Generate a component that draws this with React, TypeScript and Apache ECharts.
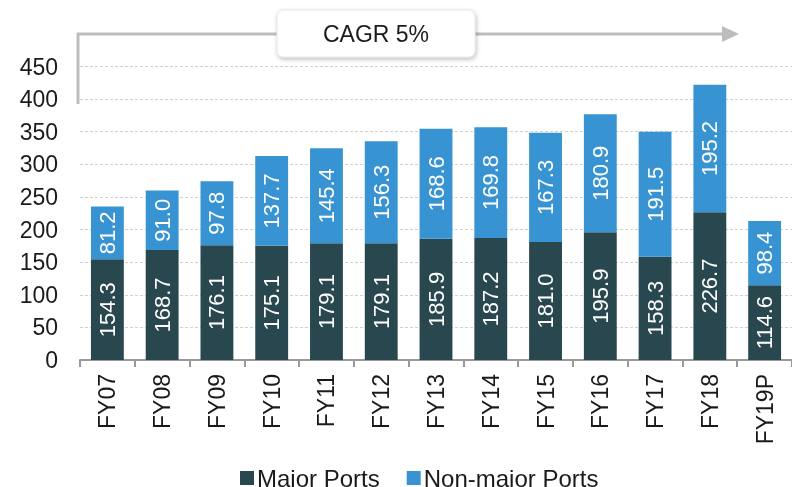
import React, { useEffect, useRef } from "react";
import * as echarts from "echarts";

const categories = ["FY07", "FY08", "FY09", "FY10", "FY11", "FY12", "FY13", "FY14", "FY15", "FY16", "FY17", "FY18", "FY19P"];
const majorPorts = [154.3, 168.7, 176.1, 175.1, 179.1, 179.1, 185.9, 187.2, 181.0, 195.9, 158.3, 226.7, 114.6];
const nonMajorPorts = [81.2, 91.0, 97.8, 137.7, 145.4, 156.3, 168.6, 169.8, 167.3, 180.9, 191.5, 195.2, 98.4];
const cagrText = "CAGR 5%";

const FONT = "Liberation Sans, Arial, sans-serif";

export default function App() {
  const ref = useRef<HTMLDivElement>(null);
  useEffect(() => {
    if (!ref.current) return;
    const chart = echarts.init(ref.current, null, { renderer: "svg" });
    const barLabel = {
      show: true,
      position: "inside" as const,
      rotate: 90,
      color: "#ffffff",
      fontSize: 22,
      fontFamily: FONT,
      formatter: (p: any) => Number(p.value).toFixed(1),
    };
    chart.setOption({
      animation: false,
      textStyle: { fontFamily: FONT },
      grid: { left: 80, right: -12, top: 66.5, bottom: 127, containLabel: false },
      legend: {
        data: ["Major Ports", "Non-major Ports"],
        left: 240,
        top: 466,
        padding: 0,
        icon: "rect",
        itemWidth: 14,
        itemHeight: 14,
        itemGap: 27,
        textStyle: { fontSize: 24, color: "#1a1a1a", fontFamily: FONT, padding: [0, 0, 0, -2] },
      },
      xAxis: {
        type: "category",
        data: categories,
        axisLine: { show: true, lineStyle: { color: "#999999", width: 2 } },
        axisTick: { show: true, length: 7, lineStyle: { color: "#999999", width: 2 } },
        axisLabel: { rotate: 90, fontSize: 23, color: "#1a1a1a", margin: 14, fontFamily: FONT },
      },
      yAxis: {
        type: "value",
        min: 0,
        max: 450,
        interval: 50,
        axisLine: { show: false },
        axisTick: { show: false },
        axisLabel: { fontSize: 23, color: "#1a1a1a", margin: 22, fontFamily: FONT },
        splitLine: { show: true, lineStyle: { color: "#d0d0d0", type: [3, 2], width: 1 } },
      },
      series: [
        {
          name: "Major Ports",
          type: "bar",
          stack: "total",
          data: majorPorts,
          barCategoryGap: "40%",
          itemStyle: { color: "#29474f" },
          label: barLabel,
        },
        {
          name: "Non-major Ports",
          type: "bar",
          stack: "total",
          data: nonMajorPorts,
          barCategoryGap: "40%",
          itemStyle: { color: "#3893d3" },
          label: barLabel,
        },
      ],
      graphic: [
        {
          type: "polyline",
          shape: { points: [[78, 104], [78, 34], [726, 34]] },
          style: { stroke: "#bdbdbd", lineWidth: 3, fill: null },
          z: 10,
        },
        {
          type: "polygon",
          shape: { points: [[722, 26], [739, 34], [722, 42]] },
          style: { fill: "#bdbdbd" },
          z: 10,
        },
        {
          type: "rect",
          shape: { x: 277, y: 10, width: 198, height: 47, r: 6 },
          style: {
            fill: "#ffffff",
            stroke: "#e6e6e6",
            lineWidth: 1,
            shadowBlur: 4,
            shadowOffsetX: 1,
            shadowOffsetY: 2,
            shadowColor: "rgba(0,0,0,0.25)",
          },
          z: 11,
        },
        {
          type: "text",
          x: 376,
          y: 34,
          style: {
            text: cagrText,
            fontSize: 23,
            fontFamily: FONT,
            fill: "#1a1a1a",
            align: "center",
            verticalAlign: "middle",
          },
          z: 12,
        },
      ],
    });
    return () => chart.dispose();
  }, []);
  return <div ref={ref} style={{ position: "fixed", left: 0, top: 0, width: 792, height: 487 }} />;
}
